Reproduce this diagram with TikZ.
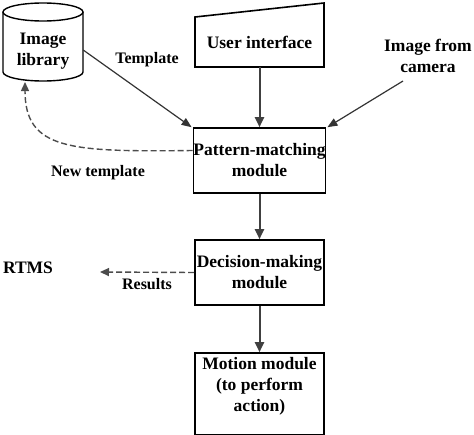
\documentclass[tikz,border=0pt]{standalone}
\usepackage{fontspec}
\setmainfont{Liberation Serif}
\usetikzlibrary{arrows.meta}
\begin{document}
\begin{tikzpicture}[x=1pt,y=-1pt,
  txt/.style={font=\fontsize{17.5}{21}\selectfont\bfseries, align=center, inner sep=0pt},
  lbl/.style={font=\fontsize{16}{18}\selectfont\bfseries, inner sep=0pt},
  box/.style={draw=black, line width=1.6pt, minimum width=129pt, inner sep=0pt},
  flow/.style={draw=black!75, line width=2pt, -{Triangle[length=10pt,width=9pt]}},
  thin/.style={draw=black!80, line width=1.2pt, -{Triangle[length=10pt,width=8pt]}},
  dsh/.style={draw=black!70, line width=1.4pt, dash pattern=on 6pt off 3pt, -{Triangle[length=9pt,width=8pt]}}
]
\useasboundingbox (0,0) rectangle (474,434);
% Image library (cylinder)
\draw[line width=1.4pt, fill=white] (3,12) -- (3,72) arc[start angle=180,end angle=360,x radius=40pt,y radius=9pt] -- (83,12);
\draw[line width=1.4pt] (43,12) ellipse[x radius=40pt, y radius=9pt];
\node[txt, minimum width=80pt, minimum height=60pt] (lib) at (43,51) {Image\\library};
% User interface (manual input)
\node[txt, minimum width=129pt, minimum height=50pt] (ui) at (259.5,42) {User interface};
\draw[line width=1.6pt] (195,17) -- (324,3) -- (324,67) -- (195,67) -- cycle;
% Boxes
\node[box, txt, minimum width=129pt, minimum height=65pt] (pm) at (259.5,160.5) {Pattern-matching\\module};
\node[box, txt, minimum width=129pt, minimum height=65pt] (dm) at (259.5,272.5) {Decision-making\\module};
\node[box, minimum width=129pt, minimum height=82pt] (mm) at (259.5,394) {};
\node[txt] (mmt) at (259.5,386) {Motion module\\(to perform\\action)};
% texts
\node[txt] (cam) at (428,56) {Image from\\camera};
\node[txt] (rtms) at (28,268) {RTMS};
\node[lbl] (ltemp) at (147,60) {Template};
\node[lbl] (lnew) at (98,173) {New template};
\node[lbl] (lres) at (147,284) {Results};
% connectors
\coordinate (camend) at (403,81);
\coordinate (libbot) at (25,82);
\coordinate (resend) at (100,272);
\draw[flow] (ui.south) -- (pm.north);
\draw[flow] (pm.south) -- (dm.north);
\draw[flow] (dm.south) -- (mm.north);
\draw[thin] (camend) -- ([xshift=1pt]pm.north east);
\draw[thin] (lib.east) ++(0,-1) -- ([xshift=-1pt]pm.north west);
\draw[dsh] ([yshift=10pt]pm.west) .. controls (70,152) and (25,150) .. (libbot);
\draw[dsh] (dm.west) -- (resend);
\end{tikzpicture}
\end{document}
